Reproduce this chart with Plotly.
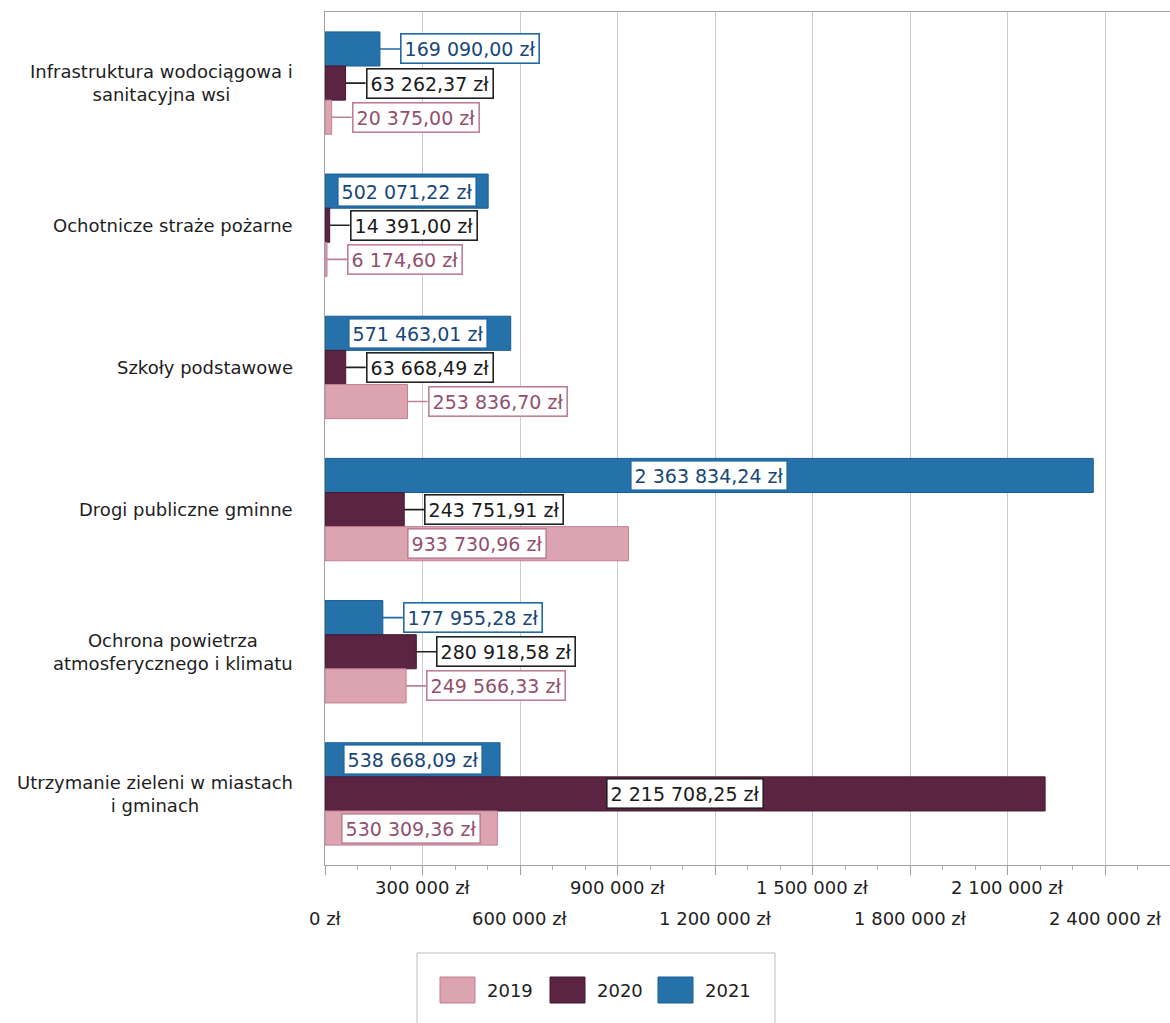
import plotly.graph_objects as go

# Spending per task area, three budget years (zł)
CATEGORIES = [
    "Infrastruktura wodociągowa i<br>sanitacyjna wsi",
    "Ochotnicze straże pożarne",
    "Szkoły podstawowe",
    "Drogi publiczne gminne",
    "Ochrona powietrza<br>atmosferycznego i klimatu",
    "Utrzymanie zieleni w miastach<br>i gminach",
]
YEARS = ["2019", "2020", "2021"]
V2019 = [20375.00, 6174.60, 253836.70, 933730.96, 249566.33, 530309.36]
V2020 = [63262.37, 14391.00, 63668.49, 243751.91, 280918.58, 2215708.25]
V2021 = [169090.00, 502071.22, 571463.01, 2363834.24, 177955.28, 538668.09]
TICK_VALUES = [0, 300000, 600000, 900000, 1200000, 1500000, 1800000, 2100000, 2400000]

FONT = "DejaVu Sans"
BAR_COLORS = {"2019": "#dca3b0", "2020": "#5b2442", "2021": "#2572ab"}
BAR_EDGES = {"2019": "#c17f92", "2020": "#45182f", "2021": "#1b5d93"}
LABEL_TEXT = {"2019": "#93506e", "2020": "#1a1a1a", "2021": "#17477a"}
LABEL_BORDER = {"2019": "#c07f97", "2020": "#222222", "2021": "#2068a6"}

# label placement: True -> box centred inside the bar, False -> callout to the right
INSIDE = {
    "2019": [False, False, False, True, False, True],
    "2020": [False, False, False, False, False, True],
    "2021": [False, True, True, True, False, True],
}
GAP_PX = 20
BARGAP = 0.28


def zl(v):
    s = f"{v:,.2f}".replace(",", " ").replace(".", ",")
    return f"{s} zł"


def tick_label(v):
    return zl(v).replace(",00 zł", " zł") if v else "0 zł"


series = {"2019": V2019, "2020": V2020, "2021": V2021}

fig = go.Figure()
# 2021 first so that, on the reversed category axis, it sits on top of each group
for year in ["2021", "2020", "2019"]:
    fig.add_trace(go.Bar(
        y=CATEGORIES, x=series[year], orientation="h", name=year,
        marker=dict(color=BAR_COLORS[year], line=dict(color=BAR_EDGES[year], width=1)),
        showlegend=False,
    ))

annotations = []
# category names, centred lines, right edge near the axis
for cat in CATEGORIES:
    annotations.append(dict(
        x=0, xref="paper", y=cat, yref="y", xanchor="right", yanchor="middle",
        xshift=-30, align="center", showarrow=False, text=cat,
        font=dict(family=FONT, size=18, color="#1e1e1e"),
    ))

# x tick labels staggered on two rows
for i, v in enumerate(TICK_VALUES):
    annotations.append(dict(
        x=v, xref="x", y=0, yref="paper", xanchor="center", yanchor="middle",
        yshift=-22 if i % 2 else -53, showarrow=False, text=tick_label(v),
        font=dict(family=FONT, size=18, color="#1e1e1e"),
    ))

w = (1 - BARGAP) / 3
slot = {"2021": -1, "2020": 0, "2019": 1}
for year in YEARS:
    for i, v in enumerate(series[year]):
        y = i + slot[year] * w
        common = dict(
            y=y, yref="y", xref="x", text=zl(v), bgcolor="white",
            bordercolor=LABEL_BORDER[year], borderwidth=1.6, borderpad=3,
            font=dict(family=FONT, size=19, color=LABEL_TEXT[year]),
        )
        if INSIDE[year][i]:
            annotations.append(dict(x=v / 2, xanchor="center", showarrow=False, **common))
        else:
            annotations.append(dict(
                x=v, xanchor="left", showarrow=True, arrowhead=0, arrowwidth=1.6,
                arrowcolor=LABEL_BORDER[year], ax=GAP_PX, ay=0, standoff=0, **common))

# legend drawn as swatches with labels below the plot
shapes = []
px0, pw, pb, ph = 325, 845, 865, 853


def px_x(p):
    return (p - px0) / pw


def px_y(p):
    return (pb - p) / ph


shapes.append(dict(type="rect", xref="paper", yref="paper",
                   x0=px_x(417), x1=px_x(775), y0=px_y(1040), y1=px_y(953),
                   line=dict(color="#bdbdbd", width=1), fillcolor="white", layer="below"))
for year, sx in zip(YEARS, [440, 550, 658]):
    shapes.append(dict(type="rect", xref="paper", yref="paper",
                       x0=px_x(sx), x1=px_x(sx + 35), y0=px_y(1003), y1=px_y(977),
                       line=dict(color=BAR_EDGES[year], width=1), fillcolor=BAR_COLORS[year]))
    annotations.append(dict(x=px_x(sx + 45), y=px_y(990), xref="paper", yref="paper",
                            xanchor="left", yanchor="middle", showarrow=False, text=year,
                            font=dict(family=FONT, size=18, color="#1e1e1e")))

fig.update_layout(
    width=1170, height=1023,
    margin=dict(l=325, r=0, t=12, b=158),
    paper_bgcolor="white", plot_bgcolor="white",
    barmode="group", bargap=BARGAP, bargroupgap=0,
    annotations=annotations, shapes=shapes,
    font=dict(family=FONT, size=18, color="#1e1e1e"),
)
fig.update_xaxes(
    range=[0, 2600000], tickmode="array", tickvals=TICK_VALUES,
    showticklabels=False,
    showgrid=True, gridcolor="#cccccc", gridwidth=1,
    showline=True, linecolor="#a0a0a0", linewidth=1, mirror=True,
    ticks="outside", ticklen=9, tickcolor="#a0a0a0",
    minor=dict(tickmode="linear", tick0=0, dtick=100000, ticks="outside",
               ticklen=4, tickcolor="#b0b0b0", showgrid=False),
    zeroline=False,
)
fig.update_yaxes(
    type="category", autorange="reversed", showticklabels=False,
    showgrid=False, showline=True, linecolor="#a0a0a0", linewidth=1,
)

fig.write_html("out.html")
